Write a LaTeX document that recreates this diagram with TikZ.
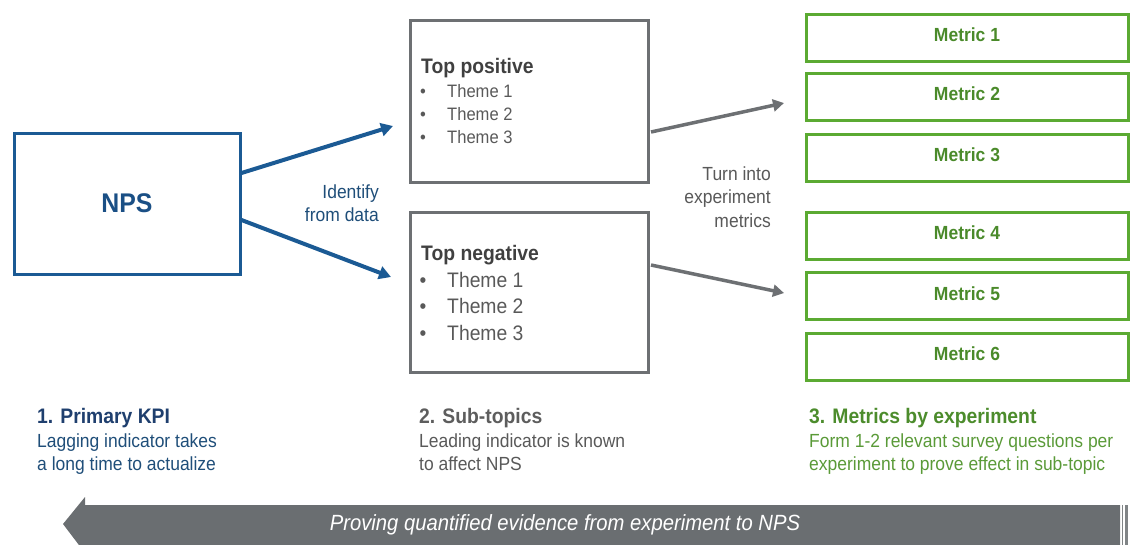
\documentclass[tikz,border=0pt]{standalone}
\usepackage{fontspec}
\setmainfont[FakeStretch=0.92]{Liberation Sans}
\usetikzlibrary{arrows.meta}

\definecolor{kpiblue}{HTML}{1B5A94}
\definecolor{kpitext}{HTML}{1A4F85}
\definecolor{kpihead}{HTML}{1F3F6E}
\definecolor{kpibody}{HTML}{1F4E79}
\definecolor{subgray}{HTML}{6D7073}
\definecolor{subtitle}{HTML}{404040}
\definecolor{subtext}{HTML}{595959}
\definecolor{metgreen}{HTML}{5BAA32}
\definecolor{mettext}{HTML}{4A8A2A}
\definecolor{methead}{HTML}{4C8C2C}
\definecolor{metbody}{HTML}{5A9A38}
\definecolor{bandgray}{HTML}{6A6E71}

\begin{document}
\begin{tikzpicture}[x=1pt,y=-1pt,
  kpibox/.style={draw=kpiblue, line width=3pt, minimum width=226pt, minimum height=141pt, inner sep=0pt,
    text=kpitext, font=\bfseries\fontsize{27}{30}\selectfont},
  subbox/.style={draw=subgray, line width=3pt, minimum width=238pt, inner sep=0pt},
  metricbox/.style={draw=metgreen, line width=3pt, minimum width=322pt, minimum height=47pt, inner sep=0pt,
    text height=13.6pt, text depth=5pt,
    text=mettext, font=\bfseries\fontsize{19}{22}\selectfont},
  lbl/.style={inner sep=0pt, anchor=base west},
  rlbl/.style={inner sep=0pt, anchor=base east},
  bluearrow/.style={draw=kpiblue, line width=4pt, -{Triangle[length=12pt,width=13pt]}},
  grayarrow/.style={draw=subgray, line width=3.5pt, -{Triangle[length=11pt,width=12pt]}},
  headfont/.style={font=\bfseries\fontsize{21}{24}\selectfont},
  bodyfont/.style={font=\fontsize{19}{23}\selectfont},
  smallfont/.style={font=\fontsize{18}{22}\selectfont},
  bigfont/.style={font=\fontsize{21}{25}\selectfont}
]
\useasboundingbox (0,0) rectangle (1131,544);

% primary KPI box
\node[kpibox] (nps) at (127,203.5) {NPS};

% sub-topic boxes
\node[subbox, minimum height=162pt] (pos) at (529,101) {};
\node[subbox, minimum height=160pt] (neg) at (529,292) {};

\node[lbl, headfont, text=subtitle] (posT) at (421,73) {Top positive};
\node[inner sep=0pt, anchor=base, smallfont, text=subtext] (pb1) at (423,97) {•};
\node[inner sep=0pt, anchor=base, smallfont, text=subtext] (pb2) at (423,120) {•};
\node[inner sep=0pt, anchor=base, smallfont, text=subtext] (pb3) at (423,143) {•};
\node[lbl, smallfont, text=subtext] (pt1) at (447,97) {Theme 1};
\node[lbl, smallfont, text=subtext] (pt2) at (447,120) {Theme 2};
\node[lbl, smallfont, text=subtext] (pt3) at (447,143) {Theme 3};

\node[lbl, headfont, text=subtitle] (negT) at (421,260) {Top negative};
\node[inner sep=0pt, anchor=base, bigfont, text=subtext] (nb1) at (423,287) {•};
\node[inner sep=0pt, anchor=base, bigfont, text=subtext] (nb2) at (423,313) {•};
\node[inner sep=0pt, anchor=base, bigfont, text=subtext] (nb3) at (423,340) {•};
\node[lbl, bigfont, text=subtext] (nt1) at (447,287) {Theme 1};
\node[lbl, bigfont, text=subtext] (nt2) at (447,313) {Theme 2};
\node[lbl, bigfont, text=subtext] (nt3) at (447,340) {Theme 3};

% metric boxes
\node[metricbox] (m1) at (967,37.5) {Metric 1};
\node[metricbox] (m2) at (967,96.5) {Metric 2};
\node[metricbox] (m3) at (967,157.5) {Metric 3};
\node[metricbox] (m4) at (967,235.5) {Metric 4};
\node[metricbox] (m5) at (967,296) {Metric 5};
\node[metricbox] (m6) at (967,356.5) {Metric 6};

% connector end points
\coordinate (tipPos) at (393,126);
\coordinate (tipNeg) at (391,277);
\coordinate (tipUp) at (784,103);
\coordinate (tipDown) at (784,293);

\draw[bluearrow] ([yshift=30.5pt]nps.east) -- (tipPos);
\draw[bluearrow] ([yshift=-16.5pt]nps.east) -- (tipNeg);
\draw[grayarrow] ([xshift=1.5pt,yshift=-31pt]pos.east) -- (tipUp);
\draw[grayarrow] ([xshift=1.5pt,yshift=27pt]neg.east) -- (tipDown);

% connector labels
\node[rlbl, bodyfont, text=kpibody] (id1) at (379,198) {Identify};
\node[rlbl, bodyfont, text=kpibody] (id2) at (379,221) {from data};
\node[rlbl, bodyfont, text=subtext] (tu1) at (771,180) {Turn into};
\node[rlbl, bodyfont, text=subtext] (tu2) at (771,203) {experiment};
\node[rlbl, bodyfont, text=subtext] (tu3) at (771,227) {metrics};

% column captions
\node[lbl, headfont, text=kpihead] (c1h) at (37,423) {1. Primary KPI};
\node[lbl, bodyfont, text=kpibody] (c1a) at (37,447) {Lagging indicator takes};
\node[lbl, bodyfont, text=kpibody] (c1b) at (37,470) {a long time to actualize};

\node[lbl, headfont, text=subtitle!85!white] (c2h) at (419,423) {2. Sub-topics};
\node[lbl, bodyfont, text=subtext] (c2a) at (419,447) {Leading indicator is known};
\node[lbl, bodyfont, text=subtext] (c2b) at (419,470) {to affect NPS};

\node[lbl, headfont, text=methead] (c3h) at (809,423) {3. Metrics by experiment};
\node[lbl, bodyfont, text=metbody] (c3a) at (809,447) {Form 1-2 relevant survey questions per};
\node[lbl, bodyfont, text=metbody] (c3b) at (809,470) {experiment to prove effect in sub-topic};

% bottom band arrow
\fill[bandgray] (1120,505) -- (85,505) -- (85,497) -- (63,524) -- (85,553) -- (85,547) -- (1120,547) -- cycle;
\fill[bandgray!85!white] (1121.5,505) rectangle (1123.3,547);
\fill[bandgray!85!white] (1125,505) rectangle (1127.5,547);
\node[inner sep=0pt, anchor=base, text=white, font=\itshape\fontsize{22}{26}\selectfont] (band) at (565,530) {Proving quantified evidence from experiment to NPS};
\end{tikzpicture}
\end{document}
